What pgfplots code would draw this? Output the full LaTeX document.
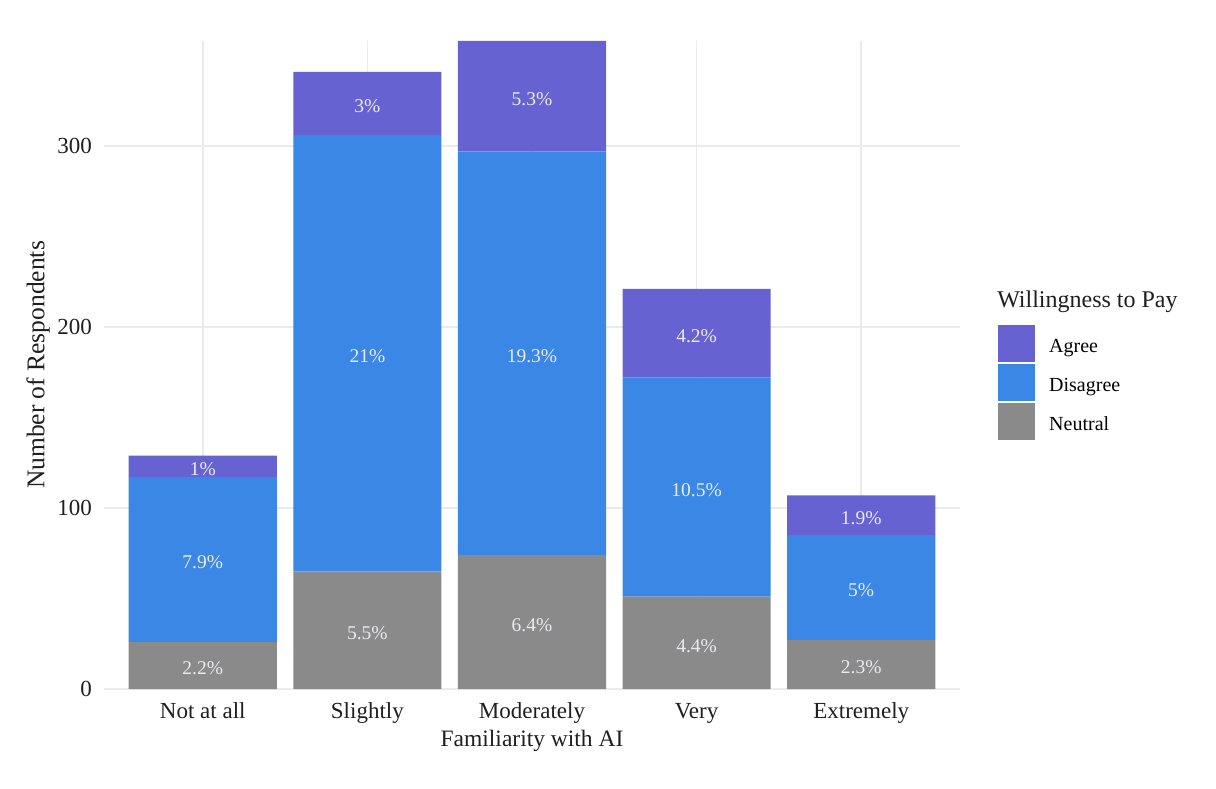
\documentclass[border=0pt]{standalone}
\usepackage{fontspec}
\setmainfont{Liberation Serif}
\usepackage{pgfplots}
\pgfplotsset{compat=1.18}
\definecolor{agree}{HTML}{6762D2}
\definecolor{disagree}{HTML}{3A87E6}
\definecolor{neutral}{HTML}{8A8A8A}
\definecolor{gridgray}{HTML}{EBEBEB}
\definecolor{lbl}{HTML}{EAEAF0}
\tikzset{pct/.style={font=\fontsize{19.5}{23}\selectfont, text=lbl, anchor=center, yshift=-3pt}}
\begin{document}
\begin{tikzpicture}
\path[use as bounding box] (-104pt,-99pt) rectangle (1112pt,689pt);
\begin{axis}[
  at={(0pt,0pt)}, anchor=south west,
  scale only axis, width=856pt, height=648pt,
  xmin=0.4, xmax=5.6, ymin=0, ymax=358,
  clip=false,
  ybar stacked, bar width=0.9,
  axis line style={draw=none},
  major tick length=0pt,
  tick style={draw=none},
  xtick={1,2,3,4,5},
  xticklabels={Not at all,Slightly,Moderately,Very,Extremely},
  ytick={0,100,200,300},
  xmajorgrids, ymajorgrids,
  grid style={color=gridgray, line width=1.6pt},
  /pgf/number format/assume math mode=true,
  tick label style={font=\fontsize{23}{27}\selectfont, text=black!88},
  xticklabel style={anchor=base, inner sep=0pt, yshift=-29pt},
  yticklabel style={anchor=east, inner sep=0pt, xshift=-12pt},
  xlabel={Familiarity with AI},
  ylabel={Number of Respondents},
  label style={font=\fontsize{23.5}{28}\selectfont, text=black!88},
  xlabel style={at={(axis description cs:0.5,-0.0895)}, anchor=base},
  ylabel style={at={(axis description cs:-0.0771,0.5)}, anchor=center, font=\fontsize{25.5}{30}\selectfont},
  reverse legend,
  legend cell align=left,
  legend image code/.code={\fill[#1,draw=none] (0pt,-15.5pt) rectangle (37pt,21.5pt);},
  legend style={at={(axis description cs:1.0444,0.5617)}, anchor=north west,
    draw=none, fill=none, font=\fontsize{20}{24}\selectfont,
    inner sep=0pt, row sep=2pt,
    /tikz/every odd column/.append style={column sep=12pt}},
]
\addplot[fill=neutral, draw=none] coordinates {(1,26) (2,65) (3,74) (4,51) (5,27)};
\addlegendentry{Neutral}
\addplot[fill=disagree, draw=none] coordinates {(1,91) (2,241) (3,223) (4,121) (5,58)};
\addlegendentry{Disagree}
\addplot[fill=agree, draw=none] coordinates {(1,12) (2,35) (3,61) (4,49) (5,22)};
\addlegendentry{Agree}

\coordinate (n1) at (axis cs:1,13);
\coordinate (d1) at (axis cs:1,71.5);
\coordinate (a1) at (axis cs:1,123);
\coordinate (n2) at (axis cs:2,32.5);
\coordinate (d2) at (axis cs:2,185.5);
\coordinate (a2) at (axis cs:2,323.5);
\coordinate (n3) at (axis cs:3,37);
\coordinate (d3) at (axis cs:3,185.5);
\coordinate (a3) at (axis cs:3,327.5);
\coordinate (n4) at (axis cs:4,25.5);
\coordinate (d4) at (axis cs:4,111.5);
\coordinate (a4) at (axis cs:4,196.5);
\coordinate (n5) at (axis cs:5,13.5);
\coordinate (d5) at (axis cs:5,56);
\coordinate (a5) at (axis cs:5,96);
\coordinate (ttl) at (axis description cs:1.0433,0.588);
\end{axis}
\node[pct] at (n1) {2.2\%};
\node[pct] at (d1) {7.9\%};
\node[pct] at (a1) {1\%};
\node[pct] at (n2) {5.5\%};
\node[pct] at (d2) {21\%};
\node[pct] at (a2) {3\%};
\node[pct] at (n3) {6.4\%};
\node[pct] at (d3) {19.3\%};
\node[pct] at (a3) {5.3\%};
\node[pct] at (n4) {4.4\%};
\node[pct] at (d4) {10.5\%};
\node[pct] at (a4) {4.2\%};
\node[pct] at (n5) {2.3\%};
\node[pct] at (d5) {5\%};
\node[pct] at (a5) {1.9\%};
\node[anchor=base west, inner sep=0pt, font=\fontsize{24}{28}\selectfont, text=black!88] at (ttl) {Willingness to Pay};
\end{tikzpicture}
\end{document}
